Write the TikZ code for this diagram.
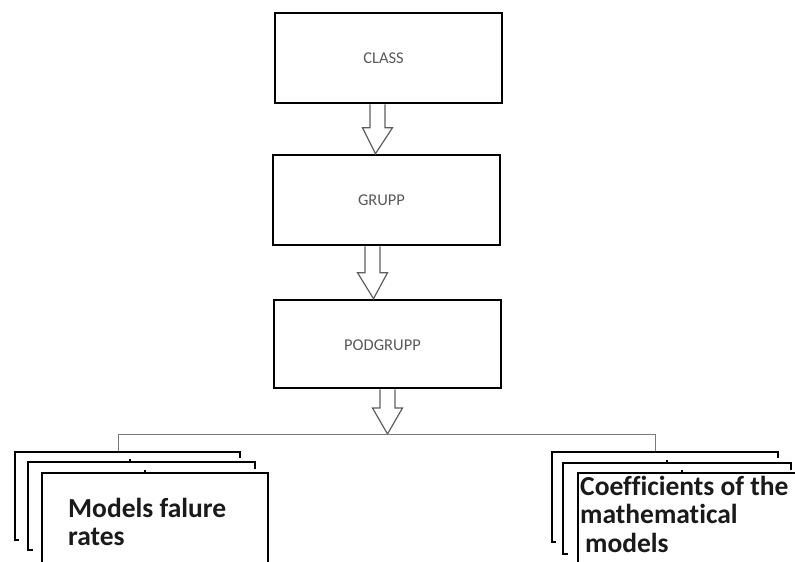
\documentclass[tikz,border=0pt]{standalone}
\usepackage{fontspec}
\setmainfont[Ligatures=NoCommon]{Carlito}
\usetikzlibrary{calc}
\definecolor{lbl}{HTML}{5A5A5A}
\definecolor{arr}{HTML}{5E5E5E}
\definecolor{cn}{HTML}{7A7A7A}
\definecolor{txt}{HTML}{1A1A1A}
\tikzset{
  box/.style={draw=black, line width=2.6pt, fill=white, outer sep=0pt, inner sep=0pt,
    minimum width=227pt, font=\fontsize{16.5}{18}\selectfont, text=lbl},
  stackbox/.style={outer sep=0pt, inner sep=0pt, anchor=north west},
  frontbox/.style={draw=black, line width=2.6pt, fill=white, outer sep=0pt, inner sep=0pt, anchor=north west},
  stackline/.style={draw=black, line width=2.6pt},
  conn/.style={draw=cn, line width=1pt},
  stub/.style={draw=black, line width=1.2pt},
  bigtext/.style={anchor=base west, inner sep=0pt, text=txt, font=\bfseries\fontsize{27.5}{28.5}\selectfont},
  hollowarrow/.style={draw=arr, line width=1.2pt, line join=miter,
    to path={let \p1=(\tikztostart), \p2=(\tikztotarget) in
      (\x1-7.5pt,\y1) -- (\x1-7.5pt,\y2+26pt) -- (\x1-15pt,\y2+26pt) -- (\x2,\y2)
      -- (\x1+15pt,\y2+26pt) -- (\x1+7.5pt,\y2+26pt) -- (\x1+7.5pt,\y1)}}
}
\begin{document}
\begin{tikzpicture}[x=1pt,y=-1pt]
\useasboundingbox (0,0) rectangle (795,562);
\clip (0,0) rectangle (795,562);

% main boxes
\node[box, minimum height=90pt] (class) at (388.5,58) {};
\node[box, minimum height=90pt] (grupp) at (386.5,200) {};
\node[box, minimum height=88pt] (podgrupp) at (387.5,344) {};
\node[font=\fontsize{16.5}{18}\selectfont, text=lbl] (tclass) at ($(class.center)+(-5,0)$) {CLASS};
\node[font=\fontsize{16.5}{18}\selectfont, text=lbl] (tgrupp) at ($(grupp.center)+(-5,0)$) {GRUPP};
\node[font=\fontsize{16.5}{18}\selectfont, text=lbl] (tpodgrupp) at ($(podgrupp.center)+(-5,1)$) {PODGRUPP};

% hollow arrows
\draw[hollowarrow] ($(class.south)+(-11,1.3)$) to ($(grupp.north)+(-11,-1.3)$);
\draw[hollowarrow] ($(grupp.south)+(-14,1.3)$) to ($(podgrupp.north)+(-14,-1.3)$);

% junction line
\coordinate (jl) at (118,434);
\coordinate (jr) at (655,434);
\coordinate (jm) at (387.5,434);
\draw[hollowarrow] ($(podgrupp.south)+(0,1.3)$) to (jm);

% left stack
\path node[stackbox, minimum width=225pt, minimum height=88pt] (l1) at (15,452) {};
\path node[stackbox, minimum width=227pt, minimum height=88pt] (l2) at (28,462) {};
% right stack
\path node[stackbox, minimum width=226pt, minimum height=90pt] (r1) at (552,452) {};
\path node[stackbox, minimum width=228pt, minimum height=91pt] (r2) at (563,463) {};

\draw[conn] (l1.north -| jl) -- (jl) -- (jr) -- (r1.north -| jr);

\draw[stackline] ($(l1.south west)+(4,0)$) -- (l1.south west) -- (l1.north west) -- (l1.north east) -- ($(l1.north east)+(0,6)$);
\draw[stackline] ($(l2.south west)+(5,0)$) -- (l2.south west) -- (l2.north west) -- (l2.north east) -- ($(l2.north east)+(0,7)$);
\draw[stackline] ($(r1.south west)+(4,0)$) -- (r1.south west) -- (r1.north west) -- (r1.north east) -- ($(r1.north east)+(0,6)$);
\draw[stackline] ($(r2.south west)+(5,0)$) -- (r2.south west) -- (r2.north west) -- (r2.north east) -- ($(r2.north east)+(0,7)$);

\node[frontbox, minimum width=226pt, minimum height=130pt] (l3) at (42,473) {};
\node[frontbox, minimum width=240pt, minimum height=130pt] (r3) at (578,473) {};

% small stubs on top edges
\draw[stub] ($(l2.north west)+(102,-3)$) -- +(0,3);
\draw[stub] ($(l3.north west)+(103,-3)$) -- +(0,3);
\draw[stub] ($(r2.north west)+(104,-3)$) -- +(0,3);
\draw[stub] ($(r3.north west)+(104,-3)$) -- +(0,3);

% texts
\node[bigtext] (lt1) at (68,517) {Models falure};
\node[bigtext] (lt2) at (68,545) {rates};
\node[bigtext] (rt1) at (580,495) {Coefficients of the};
\node[bigtext] (rt2) at (580,523) {mathematical};
\node[bigtext] (rt3) at (585,552) {models};
\end{tikzpicture}
\end{document}
